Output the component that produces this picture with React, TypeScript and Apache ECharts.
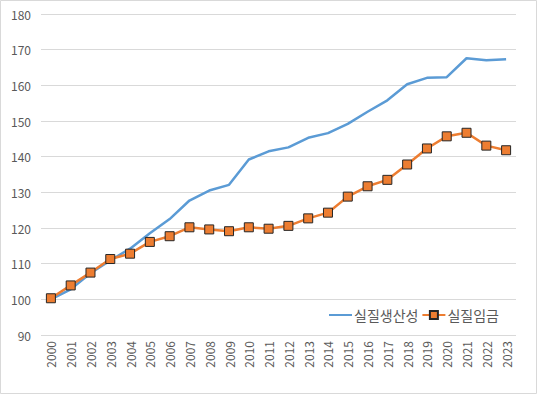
import React, { useEffect, useRef } from "react";
import * as echarts from "echarts";

const years = ["2000","2001","2002","2003","2004","2005","2006","2007","2008","2009","2010","2011","2012","2013","2014","2015","2016","2017","2018","2019","2020","2021","2022","2023"];
const productivity = [100.0,102.8,107.3,110.9,114.2,118.5,122.5,127.7,130.5,132.1,139.2,141.5,142.6,145.3,146.6,149.2,152.6,155.8,160.3,162.1,162.3,167.6,167.0,167.3];
const wages = [100.3,103.9,107.5,111.3,112.8,116.1,117.7,120.2,119.6,119.1,120.2,119.8,120.6,122.7,124.3,128.8,131.7,133.5,137.8,142.3,145.7,146.7,143.1,141.8];
const seriesNames = ["실질생산성", "실질임금"];

export default function App() {
  const ref = useRef<HTMLDivElement>(null);
  useEffect(() => {
    if (!ref.current) return;
    const chart = echarts.init(ref.current, null, { renderer: "svg" });
    const font = "'Noto Sans CJK KR', 'Noto Sans', sans-serif";
    chart.setOption({
      animation: false,
      backgroundColor: "#ffffff",
      graphic: [
        {
          type: "rect",
          shape: { x: 0.5, y: 0.5, width: 536, height: 393 },
          style: { fill: "none", stroke: "#d9d9d9", lineWidth: 1 },
          silent: true,
        },
      ],
      grid: { left: 41, right: 21, top: 14, bottom: 59, containLabel: false },
      legend: {
        left: 328,
        top: 308,
        padding: 0,
        itemWidth: 23,
        itemHeight: 10,
        itemGap: 3,
        textStyle: { color: "#595959", fontSize: 14, fontFamily: font, padding: [0, 0, 0, -3] },
        data: [
          { name: seriesNames[0], itemStyle: { opacity: 0 } },
          { name: seriesNames[1] },
        ],
      },
      xAxis: {
        type: "category",
        data: years,
        boundaryGap: true,
        axisLine: { show: false },
        axisTick: { show: false },
        axisLabel: {
          rotate: 90,
          color: "#595959",
          fontSize: 12,
          fontFamily: font,
          margin: 6,
        },
      },
      yAxis: {
        type: "value",
        min: 90,
        max: 180,
        interval: 10,
        axisLine: { show: false },
        axisTick: { show: false },
        axisLabel: { color: "#595959", fontSize: 12, fontFamily: font, margin: 10 },
        splitLine: { lineStyle: { color: "#d9d9d9", width: 1 } },
      },
      series: [
        {
          name: seriesNames[0],
          type: "line",
          data: productivity,
          symbol: "none",
          lineStyle: { color: "#5b9bd5", width: 2.5 },
          itemStyle: { color: "#5b9bd5" },
        },
        {
          name: seriesNames[1],
          type: "line",
          data: wages,
          symbol: "rect",
          symbolSize: 9,
          lineStyle: { color: "#ed7d31", width: 2.5 },
          itemStyle: { color: "#ed7d31", borderColor: "#262626", borderWidth: 1 },
        },
      ],
    });
    return () => chart.dispose();
  }, []);
  return (
    <div
      ref={ref}
      style={{ position: "fixed", left: 0, top: 0, width: 537, height: 394 }}
    />
  );
}
